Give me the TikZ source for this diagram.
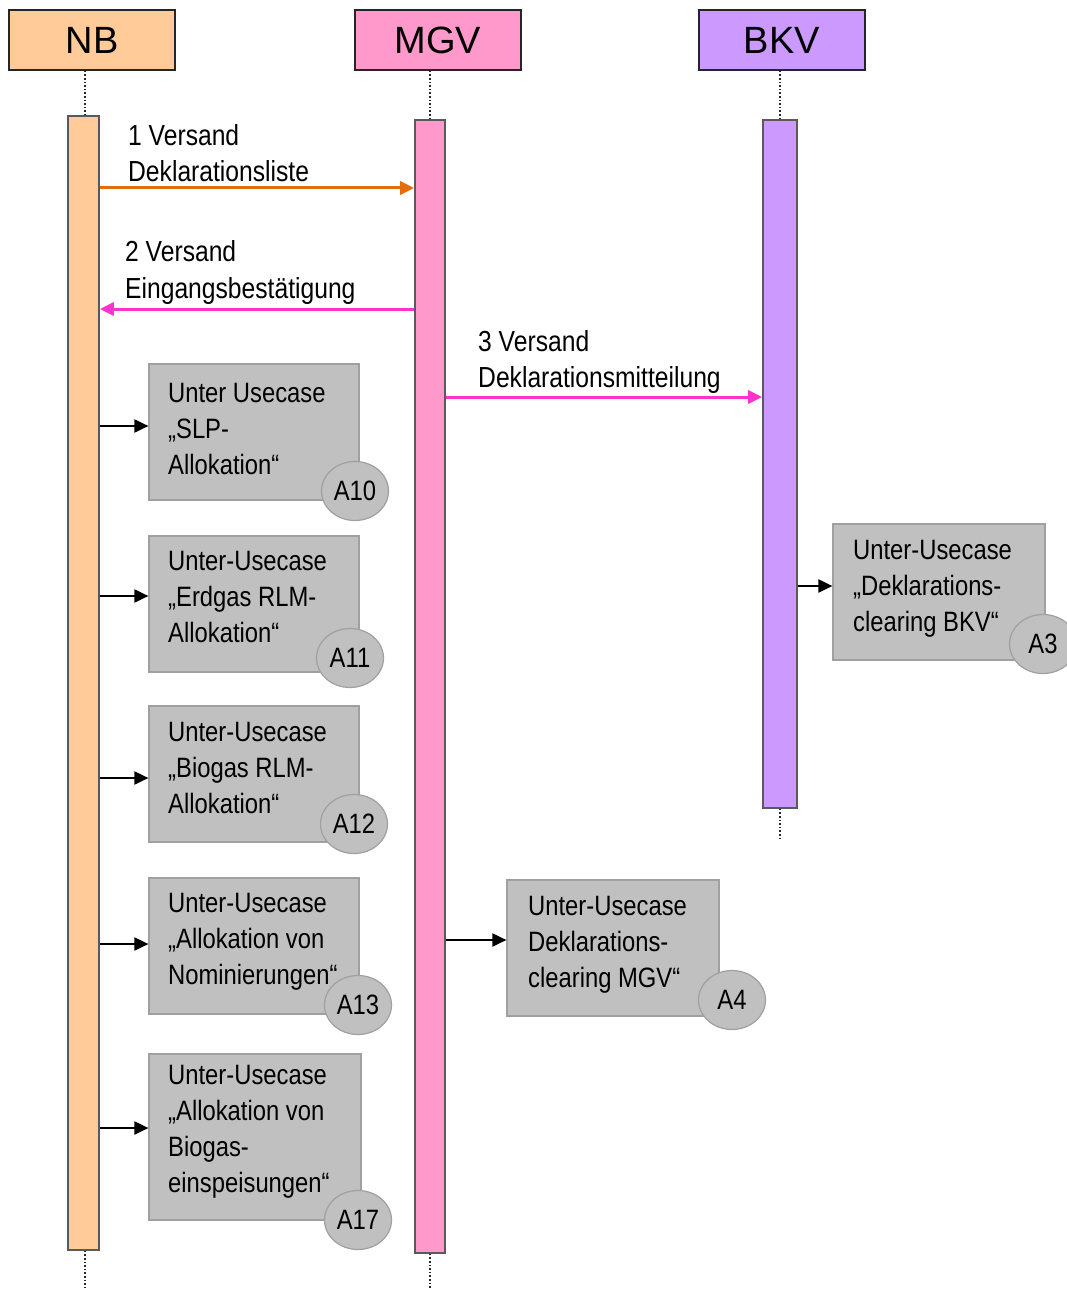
\documentclass[tikz,border=0pt]{standalone}
\usepackage{fontspec}
\setmainfont{Liberation Sans}
\newfontfamily\bodyf[FakeStretch=0.85]{Liberation Sans}
\usetikzlibrary{arrows.meta,shapes.geometric}
\definecolor{nbc}{HTML}{FFCC99}
\definecolor{mgvc}{HTML}{FF99CC}
\definecolor{bkvc}{HTML}{CC99FF}
\definecolor{boxc}{HTML}{C0C0C0}
\definecolor{boxl}{HTML}{A0A0A0}
\definecolor{orc}{HTML}{E46C0A}
\definecolor{pkc}{HTML}{FF33CC}
\tikzset{
  hdr/.style={draw=black!85, line width=1.6pt, minimum width=166pt, minimum height=60pt, inner sep=0pt, font=\fontsize{38}{40}\selectfont},
  bar/.style={draw=black!65, line width=1.6pt, inner sep=0pt},
  life/.style={line width=1.6pt, dotted, black!85},
  ucbox/.style={draw=boxl, line width=1.2pt, fill=boxc, inner sep=0pt},
  uctext/.style={anchor=base west, align=left, inner sep=0pt, font=\bodyf\fontsize{28}{36}\selectfont},
  lbl/.style={anchor=base west, align=left, inner sep=0pt, font=\bodyf\fontsize{29}{36}\selectfont},
  badge/.style={ellipse, draw=boxl, line width=1.2pt, fill=boxc, minimum width=67pt, minimum height=59pt, inner sep=0pt, font=\bodyf\fontsize{28}{30}\selectfont},
  msg/.style={line width=3pt, -{Triangle[length=14pt,width=13pt]}},
  call/.style={line width=2pt, black, -{Triangle[length=14pt,width=13pt]}}
}
\begin{document}
\begin{tikzpicture}[x=1pt,y=-1pt]
\useasboundingbox (0,0) rectangle (1067,1289);
% headers
\node[hdr, fill=nbc] (nb) at (92,40) {NB};
\node[hdr, fill=mgvc] (mgv) at (438,40) {MGV};
\node[hdr, fill=bkvc] (bkv) at (782,40) {BKV};
% activation bars
\node[bar, fill=nbc, minimum width=31pt, minimum height=1134pt] (nbbar) at (83.5,683) {};
\node[bar, fill=mgvc, minimum width=30pt, minimum height=1133pt] (mgvbar) at (430,686.5) {};
\node[bar, fill=bkvc, minimum width=34pt, minimum height=688pt] (bkvbar) at (780,464) {};
% lifelines
\coordinate (nbend) at (85,1289);
\coordinate (mgvend) at (430,1289);
\coordinate (bkvend) at (780,838);
\draw[life] (nb.south -| 85,0) -- (nbbar.north -| 85,0);
\draw[life] (nbbar.south -| 85,0) -- (nbend);
\draw[life] (mgv.south -| 430,0) -- (mgvbar.north);
\draw[life] (mgvbar.south) -- (mgvend);
\draw[life] (bkv.south -| 780,0) -- (bkvbar.north);
\draw[life] (bkvbar.south) -- (bkvend);
% messages (label anchors = baseline of last line)
\draw[msg, orc] (nbbar.east |- 0,188) -- (mgvbar.west |- 0,188);
\node[lbl] (l1) at (128,182) {1 Versand\\Deklarationsliste};
\draw[msg, pkc] (mgvbar.west |- 0,309) -- (nbbar.east |- 0,309);
\node[lbl] (l2) at (125,298) {2 Versand\\Eingangsbestätigung};
\draw[msg, pkc] (mgvbar.east |- 0,397) -- (bkvbar.west |- 0,397);
\node[lbl] (l3) at (478,387) {3 Versand\\Deklarationsmitteilung};
% use case boxes NB
\node[ucbox, minimum width=210pt, minimum height=136pt] (a10) at (254,432) {};
\node[uctext] (t10) at (168,474) {Unter Usecase\\„SLP-\\Allokation“};
\node[badge] (b10) at (355,491) {A10};
\draw[call] (nbbar.east |- 0,426) -- (a10.west |- 0,426);

\node[ucbox, minimum width=210pt, minimum height=136pt] (a11) at (254,604) {};
\node[uctext] (t11) at (168,642) {Unter-Usecase\\„Erdgas RLM-\\Allokation“};
\node[badge] (b11) at (350,658) {A11};
\draw[call] (nbbar.east |- 0,596) -- (a11.west |- 0,596);

\node[ucbox, minimum width=210pt, minimum height=136pt] (a12) at (254,774) {};
\node[uctext] (t12) at (168,813) {Unter-Usecase\\„Biogas RLM-\\Allokation“};
\node[badge] (b12) at (354,824) {A12};
\draw[call] (nbbar.east |- 0,778) -- (a12.west |- 0,778);

\node[ucbox, minimum width=210pt, minimum height=136pt] (a13) at (254,946) {};
\node[uctext] (t13) at (168,984) {Unter-Usecase\\„Allokation von\\Nominierungen“};
\node[badge] (b13) at (358,1005) {A13};
\draw[call] (nbbar.east |- 0,944) -- (a13.west |- 0,944);

\node[ucbox, minimum width=212pt, minimum height=166pt] (a17) at (255,1137) {};
\node[uctext] (t17) at (168,1192) {Unter-Usecase\\„Allokation von\\Biogas-\\einspeisungen“};
\node[badge] (b17) at (358,1220) {A17};
\draw[call] (nbbar.east |- 0,1128) -- (a17.west |- 0,1128);
% BKV use case
\node[ucbox, minimum width=212pt, minimum height=136pt] (a3) at (939,592) {};
\node[uctext] (t3) at (853,631) {Unter-Usecase\\„Deklarations-\\clearing BKV“};
\node[badge] (b3) at (1043,644) {A3};
\draw[call] (bkvbar.east |- 0,586) -- (a3.west |- 0,586);
% MGV use case
\node[ucbox, minimum width=212pt, minimum height=136pt] (a4) at (613,948) {};
\node[uctext] (t4) at (528,987) {Unter-Usecase\\Deklarations-\\clearing MGV“};
\node[badge] (b4) at (732,1000) {A4};
\draw[call] (mgvbar.east |- 0,940) -- (a4.west |- 0,940);
\end{tikzpicture}
\end{document}
